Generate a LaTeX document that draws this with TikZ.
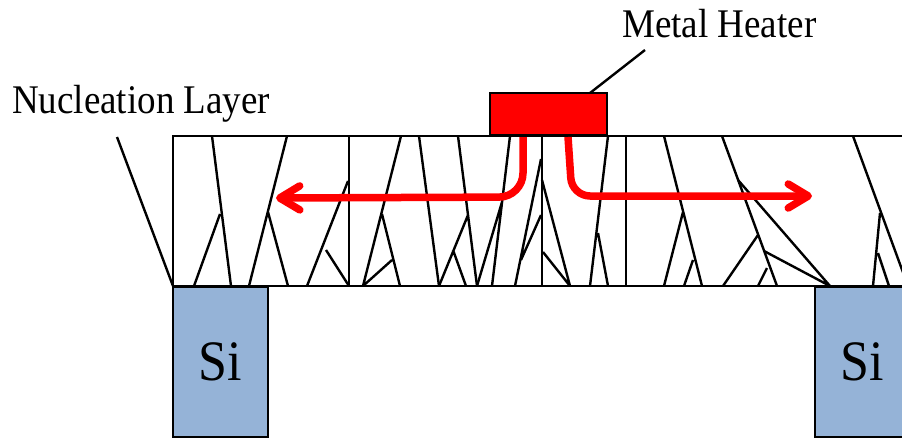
\documentclass[tikz,border=0pt]{standalone}
\usepackage{fontspec}
\setmainfont{Liberation Serif}
\usetikzlibrary{arrows.meta,calc}
\definecolor{siblue}{RGB}{149,179,215}
\newcommand\tallText[1]{\scalebox{1}[1.1]{#1}}

\begin{document}
\begin{tikzpicture}[x=1pt,y=-1pt]
	\tikzset{
		box/.style={draw, line width=2.8pt, inner sep=0pt, outer sep=0pt},
		grain/.style={line width=2.4pt},
		heat/.style={red, line width=7.5pt, rounded corners=#1,
			-{Straight Barb[length=20pt,width=24pt,round]}},
		lbl/.style={font=\fontsize{37}{40}\selectfont, inner sep=0pt},
		sibox/.style={box, fill=siblue, minimum width=95pt, minimum height=150pt,
			font=\fontsize{52}{56}\selectfont}
	}
	\clip (0,0) rectangle (902,440);

	% the film
	\node[box, fill=white, minimum width=747pt, minimum height=150pt] (layer) at (546.5,211) {};

	% grain boundaries, trunk first then its branches
	\draw[grain] (212,136) -- (231,286) (220,214) -- (194,286);
	\draw[grain] (287,136) -- (249,286) (268,212) -- (288,286);
	\draw[grain] (349,136) -- (349,286);
	\draw[grain] (348,181) -- (307,286) (326,250) -- (349,286);
	\draw[grain] (401,136) -- (363,286) (382,214) -- (400,286) (392,260) -- (363,286);
	\draw[grain] (419,136) -- (439,286);
	\draw[grain] (458,136) -- (477,286) (468,215) -- (439,286) (453,250) -- (466,286);
	\draw[grain] (510,136) -- (492,286) (502,202) -- (477,286);
	\draw[grain] (541,159) -- (515,286) (541,215) -- (521,260);
	\draw[grain] (542,136) -- (542,286);
	\draw[grain] (542,180) -- (570,286) (543,252) -- (570,286);
	\draw[grain] (608,136) -- (590,286) (598,233) -- (608,286);
	\draw[grain] (626,136) -- (626,286);
	\draw[grain] (664,136) -- (702,286) (683,212) -- (664,286) (693,260) -- (684,286);
	\draw[grain] (722,136) -- (777,286) (758,235) -- (723,286) (767,268) -- (758,286);
	\draw[grain] (738,180) -- (830,286) (764,251) -- (830,286);
	\draw[grain] (853,136) -- (908,286) (880,213) -- (873,286) (878,253) -- (889,286);

	% heat flow
	\draw[heat=24pt] (523,137) -- (523,197) -- (276,198);
	\draw[heat=18pt] (568,137) -- (572,196) -- (812,196);

	\node[box, fill=red, minimum width=117pt, minimum height=42pt] (heater) at (548.5,114) {};

	\node[sibox] (si left) at (220.5,362) {\tallText{Si}};
	\node[sibox] (si right) at (862.5,362) {\tallText{Si}};

	% labels and leaders
	\node[lbl, anchor=base west] (mh) at (622,37) {\tallText{Metal Heater}};
	\coordinate (mh end) at (645,50);
	\draw[line width=2.4pt] ($(heater.north east)+(-17,0)$) -- (mh end);

	\node[lbl, anchor=base west] (nl) at (12,113) {\tallText{Nucleation Layer}};
	\coordinate (nl end) at (117,137);
	\draw[line width=2.4pt] (nl end) -- (layer.south west);
\end{tikzpicture}
\end{document}
